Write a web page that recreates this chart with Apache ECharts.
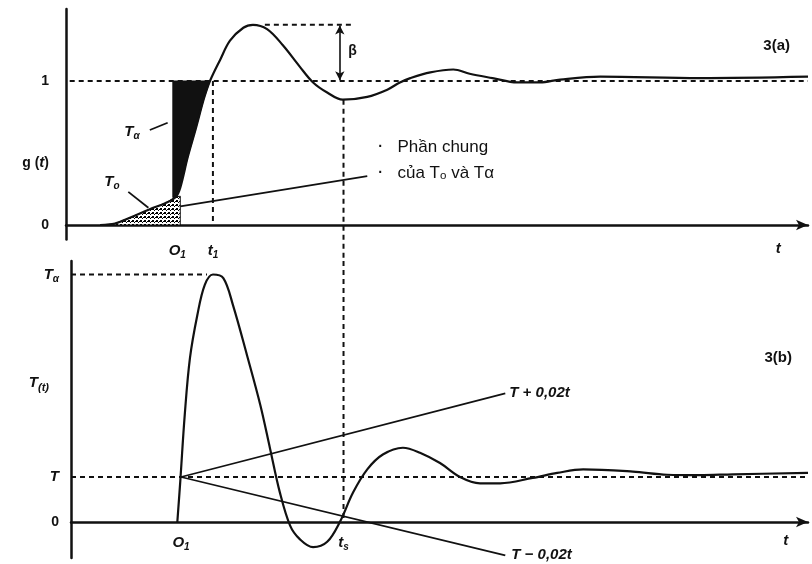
<!DOCTYPE html>
<html><head><meta charset="utf-8">
<script src="https://cdn.jsdelivr.net/npm/echarts@6/dist/echarts.min.js"></script>
<style>html,body{margin:0;padding:0;background:#fff}#c{width:812px;height:564px}</style>
</head><body><div id="c"></div>
<script>
// ---- Panel 3(a): step response g(t) ----
const gTime  = [4.6,6.6,8.6,11.3,13.3,14.8,15.4,16.4,17.5,18.6,19.4,20.8,22.1,23.9,25.2,27.1,29.2,31.5,33.3,35.2,37.3,40.6,43.3,45.0,46.4,49.1,52.2,54.4,57.5,60.8,63.9,66.6,72.0,85.4,100];
const gValue = [0,0.01,0.05,0.11,0.15,0.195,0.26,0.47,0.67,0.88,1.0,1.15,1.28,1.37,1.39,1.36,1.25,1.10,0.99,0.92,0.87,0.89,0.94,0.99,1.02,1.06,1.08,1.05,1.02,0.99,0.99,1.01,1.03,1.02,1.03];
const gPeak = 1.39, tO1a = 15.0, t1 = 19.8, ts = 37.4;
// shaded areas (Tα black, To hatched)
const areaTaX = [14.4,19.4,18.6,17.5,16.4,15.4,14.8,14.4];
const areaTaY = [1.0,1.0,0.88,0.67,0.47,0.26,0.195,0.19];
const areaToX = [4.6,6.6,8.6,11.3,13.3,14.8,15.4,15.4];
const areaToY = [0,0.01,0.05,0.11,0.15,0.195,0.2,0];
// leader lines [x1,y1,x2,y2]
const leaderTa = [11.3,0.66,13.7,0.71];
const leaderTo = [8.4,0.23,11.1,0.12];
const leaderCommon = [15.4,0.13,40.6,0.34];

// ---- Panel 3(b): T(t) ----
const tTime  = [15.0,15.4,16.0,16.7,17.7,18.7,19.8,21.2,22.5,24.4,26.2,27.5,28.8,30.2,31.5,33.3,35.2,36.9,38.7,40.6,42.7,45.4,47.7,50.4,53.1,55.8,58.5,62.9,66.2,69.7,76.4,81.0,85.4,89.9,100];
const tValue = [0,0.91,2.38,3.64,4.6,5.27,5.5,5.42,4.82,3.70,2.59,1.63,0.67,-0.08,-0.38,-0.56,-0.44,0.0,0.66,1.17,1.5,1.65,1.54,1.31,1.0,0.86,0.86,0.98,1.09,1.17,1.12,1.05,1.04,1.06,1.09];
const Tlevel = 1, Talpha = 5.5, tO1b = 15.5, bandStart = 15.5, bandEnd = 59.2;
const bandUpper = [1, 2.86], bandLower = [1, -0.74];

const zip = (a, b) => a.map((v, i) => [v, b[i]]);
const BLACK = '#111';
const FONT = 'Liberation Sans';
const rich = {
  it: {fontFamily: FONT, fontStyle: 'italic', fontWeight: 'bold', fontSize: 15, color: BLACK},
  n: {fontFamily: FONT, fontWeight: 'bold', fontSize: 14, color: BLACK},
  sub: {fontFamily: FONT, fontStyle: 'italic', fontWeight: 'bold', fontSize: 10, color: BLACK, padding: [9, 0, 0, 0]},
  subp: {fontFamily: FONT, fontStyle: 'italic', fontWeight: 'bold', fontSize: 11, color: BLACK, padding: [10, 10, 0, 0]}
};

// hatch pattern
const pc = document.createElement('canvas'); pc.width = 4; pc.height = 4;
const pcx = pc.getContext('2d');
pcx.fillStyle = '#fff'; pcx.fillRect(0, 0, 4, 4);
pcx.fillStyle = '#000'; pcx.fillRect(0, 0, 2, 2); pcx.fillRect(2, 2, 1, 1); pcx.fillRect(3, 1, 1, 1);

function polySeries(points, style, xi, yi) {
  return {type: 'custom', coordinateSystem: 'cartesian2d', xAxisIndex: xi, yAxisIndex: yi, silent: true,
    data: points, encode: {x: 0, y: 1}, z: 1,
    renderItem: function (params, api) {
      if (params.dataIndex !== 0) return null;
      return {type: 'polygon', shape: {points: points.map(p => api.coord(p))}, style: style};
    }};
}
function seg(data, xi, yi, dashed, extra) {
  return Object.assign({type: 'line', xAxisIndex: xi, yAxisIndex: yi, data: data, symbol: 'none', silent: true,
    lineStyle: {color: BLACK, width: dashed ? 2 : 1.8, type: dashed ? [5, 4] : 'solid'}, z: 3}, extra || {});
}
function textPts(items, xi, yi) {
  return {type: 'scatter', xAxisIndex: xi, yAxisIndex: yi, symbolSize: 0, silent: true, z: 5,
    itemStyle: {opacity: 1},
    data: items.map(it => ({value: it.v, label: {show: true, position: it.pos || 'inside', formatter: it.t, rich: rich,
      fontFamily: FONT, fontSize: it.fs || 15, color: BLACK, opacity: 1, fontWeight: it.fw || 'normal', lineHeight: it.lh || 18}}))};
}
const axisLineStyle = {color: BLACK, width: 2.5};

const option = {
  animation: false,
  backgroundColor: '#fff',
  title: [
    {text: '3(a)', right: 17, top: 33, textStyle: {fontFamily: FONT, fontSize: 15, fontWeight: 'bold', color: BLACK}},
    {text: '3(b)', right: 15, top: 345, textStyle: {fontFamily: FONT, fontSize: 15, fontWeight: 'bold', color: BLACK}}
  ],
  grid: [
    {left: 66, right: 4, top: 9, height: 230.4, outerBoundsMode: 'none', containLabel: false},
    {left: 71, right: 4, top: 261, height: 297, outerBoundsMode: 'none', containLabel: false}
  ],
  xAxis: [
    {gridIndex: 0, type: 'value', min: 0, max: 100,
      axisLine: {onZero: true, lineStyle: axisLineStyle, symbol: ['none', 'arrow'], symbolSize: [8, 12]},
      axisTick: {show: false}, splitLine: {show: false},
      axisLabel: {customValues: [tO1a, t1, 96], margin: 2, rich: rich,
        formatter: v => Math.abs(v - tO1a) < 1e-6 ? '{it|O}{sub|1}' : Math.abs(v - t1) < 1e-6 ? '{it|t}{sub|1}' : '{it|t}'}},
    {gridIndex: 1, type: 'value', min: 0.67, max: 100,
      axisLine: {onZero: true, lineStyle: axisLineStyle, symbol: ['none', 'arrow'], symbolSize: [8, 12]},
      axisTick: {show: false}, splitLine: {show: false},
      axisLabel: {customValues: [tO1b, ts, 97], margin: -25, rich: rich,
        formatter: v => Math.abs(v - tO1b) < 1e-6 ? '{it|O}{sub|1}' : Math.abs(v - ts) < 1e-6 ? '{it|t}{sub|s}' : '{it|t}'}}
  ],
  yAxis: [
    {gridIndex: 0, type: 'value', min: -0.1, max: 1.5,
      axisLine: {show: true, onZero: false, lineStyle: axisLineStyle}, axisTick: {show: false}, splitLine: {show: false},
      axisLabel: {customValues: [0, 0.43, 1], margin: 17, rich: rich,
        formatter: v => Math.abs(v) < 1e-6 ? '{n|0}' : Math.abs(v - 1) < 1e-6 ? '{n|1}' : '{n|g (}{it|t}{n|)}'}},
    {gridIndex: 1, type: 'value', min: -0.8, max: 5.8,
      axisLine: {show: true, onZero: false, lineStyle: axisLineStyle}, axisTick: {show: false}, splitLine: {show: false},
      axisLabel: {customValues: [0, Tlevel, 3.1, Talpha], margin: 12, rich: rich,
        formatter: v => Math.abs(v) < 1e-6 ? '{n|0}' : Math.abs(v - Tlevel) < 1e-6 ? '{it|T}' :
          Math.abs(v - Talpha) < 1e-6 ? '{it|T}{sub|α}' : '{it|T}{subp|(t)}'}}
  ],
  series: [
    // ---------- panel a ----------
    polySeries(zip(areaToX, areaToY), {fill: {image: pc, repeat: 'repeat'}, stroke: BLACK, lineWidth: 1}, 0, 0),
    polySeries(zip(areaTaX, areaTaY), {fill: BLACK, stroke: BLACK, lineWidth: 1}, 0, 0),
    seg([[0.5, 1], [100, 1]], 0, 0, true),
    seg([[26.8, gPeak], [38.9, gPeak]], 0, 0, true),
    seg([[t1, 1], [t1, 0]], 0, 0, true),
    seg([[ts, 0.87], [ts, -0.236]], 0, 0, true, {clip: false}),
    seg([[leaderTa[0], leaderTa[1]], [leaderTa[2], leaderTa[3]]], 0, 0, false),
    seg([[leaderTo[0], leaderTo[1]], [leaderTo[2], leaderTo[3]]], 0, 0, false),
    seg([[leaderCommon[0], leaderCommon[1]], [leaderCommon[2], leaderCommon[3]]], 0, 0, false),
    {type: 'line', xAxisIndex: 0, yAxisIndex: 0, data: zip(gTime, gValue), smooth: 0.35, symbol: 'none', silent: true,
      lineStyle: {color: BLACK, width: 2.2}, z: 4,
      markLine: {silent: true, symbol: ['arrow', 'arrow'], symbolSize: [7, 9], label: {show: false},
        lineStyle: {color: BLACK, width: 1.6, type: 'solid'},
        data: [[{coord: [36.9, gPeak - 0.005]}, {coord: [36.9, 1.005]}]]}},
    textPts([
      {v: [38.6, 1.21], t: '{n|β}'},
      {v: [8.9, 0.65], t: '{it|T}{sub|α}'},
      {v: [6.2, 0.30], t: '{it|T}{sub|o}'},
      {v: [42.4, 0.45], t: '{n|·}\n{n|·}', lh: 26},
      {v: [44.0, 0.45], t: 'Phần chung\ncủa T\u2092 và Tα', fs: 17, lh: 26, pos: 'right'}
    ], 0, 0),
    // ---------- panel b ----------
    seg([[0.67, Tlevel], [100, Tlevel]], 1, 1, true),
    seg([[0.67, Talpha], [19.0, Talpha]], 1, 1, true),
    seg([[ts, 5.8], [ts, 0]], 1, 1, true),
    seg([[bandStart, Tlevel], [bandEnd, bandUpper[1]]], 1, 1, false,
      {endLabel: {show: true, formatter: '{it|T + 0,02}{it|t}', rich: rich, distance: 4}}),
    seg([[bandStart, Tlevel], [bandEnd, bandLower[1]]], 1, 1, false,
      {endLabel: {show: true, formatter: '{it|T − 0,02}{it|t}', rich: rich, distance: 6}}),
    {type: 'line', xAxisIndex: 1, yAxisIndex: 1, data: zip(tTime, tValue), smooth: 0.35, symbol: 'none', silent: true,
      lineStyle: {color: BLACK, width: 2.2}, z: 4}
  ]
};
const chart = echarts.init(document.getElementById('c'), null, {renderer: 'canvas'});
chart.setOption(option);
</script>
</body></html>
